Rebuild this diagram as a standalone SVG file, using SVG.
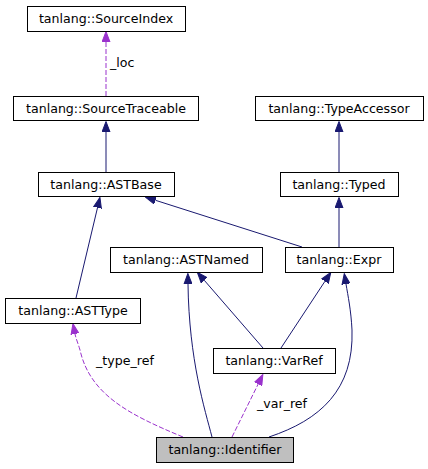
<svg xmlns="http://www.w3.org/2000/svg" width="428" height="469" viewBox="0 0 428 469">
<style>
.box{fill:#fff;stroke:#000;stroke-width:1}
.cur{fill:#bfbfbf}
.t{font-family:"DejaVu Sans",sans-serif;font-size:12.6px;fill:#000;text-anchor:middle}
.lbl{font-family:"DejaVu Sans",sans-serif;font-size:12.6px;fill:#000}
.inh{fill:none;stroke:#191970;stroke-width:1}
.use{fill:none;stroke:#9a32cd;stroke-width:1;stroke-dasharray:5,2}
</style>
<defs>
<marker id="aN" viewBox="0 0 11 9" refX="0" refY="4.5" markerUnits="userSpaceOnUse" markerWidth="11" markerHeight="9" orient="auto"><path d="M0,0.5 L10.5,4.5 L0,8.5 z" fill="#191970" stroke="#191970"/></marker>
<marker id="aP" viewBox="0 0 11 9" refX="0" refY="4.5" markerUnits="userSpaceOnUse" markerWidth="11" markerHeight="9" orient="auto"><path d="M0,0.5 L10.5,4.5 L0,8.5 z" fill="#9a32cd" stroke="#9a32cd"/></marker>
</defs>
<g id="edges">
<path class="use" d="M106,96 L106,42" marker-end="url(#aP)"/>
<text class="lbl" x="110" y="67">_loc</text>
<path class="inh" d="M106,172 L106,132" marker-end="url(#aN)"/>
<path class="inh" d="M339,172 L339,132" marker-end="url(#aN)"/>
<path class="inh" d="M339,247 L339,208" marker-end="url(#aN)"/>
<path class="inh" d="M302,247 L155.5,200.3" marker-end="url(#aN)"/>
<path class="inh" d="M76,298 L97.5,207.7" marker-end="url(#aN)"/>
<path class="inh" d="M263,348 L204.2,280.2" marker-end="url(#aN)"/>
<path class="inh" d="M281,348 L325,281.2" marker-end="url(#aN)"/>
<path class="inh" d="M212,437 C205,410 189,360 188,284" marker-end="url(#aN)"/>
<path class="inh" d="M269,437 C320,420 354,390 352,330 C351,310 348,296 346,284" marker-end="url(#aN)"/>
<path class="use" d="M232,437 L258.2,384" marker-end="url(#aP)"/>
<text class="lbl" x="257" y="408">_var_ref</text>
<path class="use" d="M183,437 C130,415 90,395 80,350 C78,343 76,339 75,334" marker-end="url(#aP)"/>
<text class="lbl" x="96" y="365">_type_ref</text>
</g>
<g id="SourceIndex"><rect class="box" x="27.5" y="6.5" width="158" height="25"/><text class="t" x="106" y="23">tanlang::SourceIndex</text></g>
<g id="SourceTraceable"><rect class="box" x="13.5" y="96.5" width="185" height="24"/><text class="t" x="106" y="113">tanlang::SourceTraceable</text></g>
<g id="ASTBase"><rect class="box" x="38.5" y="172.5" width="136" height="24"/><text class="t" x="106" y="189">tanlang::ASTBase</text></g>
<g id="TypeAccessor"><rect class="box" x="255.5" y="96.5" width="168" height="24"/><text class="t" x="339" y="113">tanlang::TypeAccessor</text></g>
<g id="Typed"><rect class="box" x="280.5" y="172.5" width="118" height="24"/><text class="t" x="339" y="189">tanlang::Typed</text></g>
<g id="ASTNamed"><rect class="box" x="110.5" y="247.5" width="152" height="25"/><text class="t" x="186" y="264">tanlang::ASTNamed</text></g>
<g id="Expr"><rect class="box" x="285.5" y="247.5" width="108" height="25"/><text class="t" x="339" y="264">tanlang::Expr</text></g>
<g id="ASTType"><rect class="box" x="5.5" y="298.5" width="135" height="25"/><text class="t" x="73" y="315">tanlang::ASTType</text></g>
<g id="VarRef"><rect class="box" x="213.5" y="348.5" width="122" height="25"/><text class="t" x="274" y="365">tanlang::VarRef</text></g>
<g id="Identifier"><rect class="box cur" x="156.5" y="437.5" width="137" height="25"/><text class="t" x="225" y="454">tanlang::Identifier</text></g>
</svg>
